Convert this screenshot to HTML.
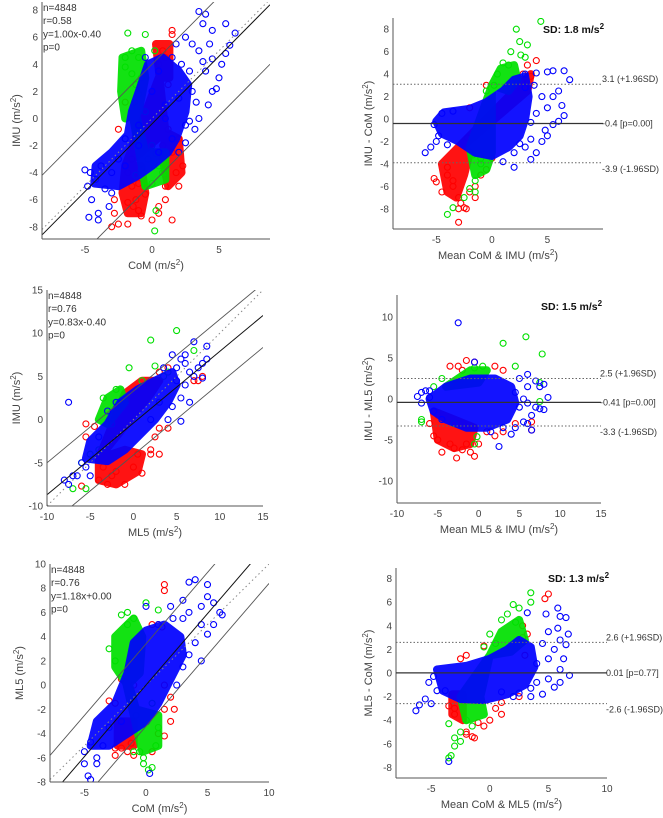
<!DOCTYPE html>
<html><head><meta charset="utf-8">
<style>
html,body{margin:0;padding:0;background:#fff;}
svg{display:block;font-family:"Liberation Sans",Arial,sans-serif;}
.tick{font-size:10px;fill:#444;}
.alab{font-size:11px;fill:#444;}
.stat{font-size:10px;fill:#333;}
.rl{font-size:9px;fill:#333;}
.sd{font-size:10.5px;font-weight:bold;fill:#111;}
</style></head>
<body>
<svg id="fig" width="663" height="818" viewBox="0 0 663 818" xmlns="http://www.w3.org/2000/svg"></svg>
<script>
// ---------- data ----------
const p1Stats = ["n=4848","r=0.58","y=1.00x-0.40","p=0"];
const p1Reg = [1.00,-0.40];
const p1Band = [4.4];
const p1XTicks = [-5,0,5];
const p1YTicks = [-8,-6,-4,-2,0,2,4,6,8];
const p1BlueCore = [[-4.3,-4.8],[-4.2,-3.5],[-3,-2.5],[-1.8,-1.2],[-1.5,0.5],[-0.8,2.5],[-0.3,4],[0.8,4.5],[2,3.5],[2.7,2.5],[2.5,0.5],[1.8,-1.5],[1.2,-2.5],[0,-3.5],[-1,-4.2],[-2.5,-5]];
const p1GreenCore = [[-2.2,4.5],[-0.8,5],[-0.5,3],[-1,0.5],[-2,0],[-2.3,2],[-2.2,4.5],[-0.5,-2.5],[1,-2.5],[1,-4.5],[-0.5,-5]];
const p1RedCore = [[-2,-3.5],[-0.8,-3.5],[-0.5,-5.5],[-0.8,-7],[-1.8,-7],[-2.2,-5.5],[-2,-3.5],[1,-1],[2,-1.5],[2.2,-4],[1.2,-5],[0.8,-3],[1,-1],[0.3,5.5],[1.3,5.5],[1.3,3],[0.5,3]];
const p1Blue = [[3.5,7.9],[4,7.7],[3.8,7],[4.5,6.5],[5.5,7],[6.2,6.3],[5.8,5.4],[5.5,4.8],[4.5,4.4],[4,3.5],[5,3],[3,5.5],[2.5,6],[3.5,5],[4.8,2.2],[4.2,1],[3.5,0],[3.2,-0.8],[4.5,2],[5.2,4],[2.8,3.5],[3,2],[2.5,-0.5],[-4.5,-6],[-4.8,-5],[-4.2,-4.5],[-4,-7],[-4.7,-7.3],[-4,-7.5],[-3,-5.5],[-3.5,-5.2],[-3.2,-6.5],[-3.8,-3.5],[-2.5,-3],[-3,-4],[-2,-3.5],[-1,-2],[-2,-1.5],[1.5,4.5],[1.8,5.5],[2.2,4],[0.5,3.5],[-0.5,4.5],[0,2],[1,1],[2,1.5],[3.3,1.2],[2.8,-0.2],[1.5,-1.5],[0.5,-2.5],[1,0],[-1,-0.5],[3.8,4.2],[4.3,5.5],[2,-2.5],[2.5,-1.8],[-5,-3.8],[-4.6,-4]];
const p1Green = [[-1.8,6.3],[-0.5,6.2],[-1.5,5],[-1,4.5],[0.2,5],[-2,4.5],[-1.5,3.3],[-1.2,2.5],[-1,1.8],[-2,3.8],[-0.8,3],[-1.3,1.2],[-0.5,0.5],[-1,-0.8],[0,-2],[-0.3,-3],[0.5,-3.5],[-0.8,-3.8],[0,-4.8],[-0.5,-5],[0.8,-4],[-1.2,-4.2],[0.2,-8.3],[0.3,-6.8],[-1,-1.5],[0.3,-2.6]];
const p1Red = [[1.5,6.5],[1.5,6.2],[0.8,5],[1,4.5],[0.5,4],[1.2,2.5],[-2,1.2],[-2.5,-0.8],[-1.5,-3],[-1.8,-4],[-1.5,-5],[-1.2,-6],[-1.4,-6.5],[-1,-6.8],[-0.8,-7.2],[-0.5,-5.6],[-1.8,-6.2],[-2.8,-6],[-3,-8],[-2.5,-7.8],[-1.8,-7.8],[0,-7.5],[0.5,-6.5],[1,-6],[1.5,-7.5],[2,-5],[1.8,-4],[2.3,-3.5],[1.5,-2.5],[0.8,-2],[2,-1.5],[1.2,-0.8],[-2.8,-7],[0.5,-7],[1,-5],[-1,-4.8]];

const p2Lines = [3.1,-0.4,-3.9];
const p2Labels = ["3.1 (+1.96SD)","-0.4 [p=0.00]","-3.9 (-1.96SD)"];
const p2XTicks = [-5,0,5];
const p2YTicks = [-8,-6,-4,-2,0,2,4,6,8];
const p2BlueCore = [[-5,-0.2],[-4.3,0.6],[-2,0.9],[-0.5,1.5],[1,2.5],[2,3.5],[3,3.8],[3.3,2],[3,0],[2.5,-1.5],[1.5,-2.5],[0,-3.3],[-1.5,-3],[-3,-2],[-4.5,-1.3]];
const p2GreenCore = [[0,3],[0.8,4.5],[2,4.8],[2.3,3.5],[1.5,2.5],[0,3],[-2,-2.5],[-1.5,-5],[-0.5,-4.5],[0,-3]];
const p2RedCore = [[-4.5,-4],[-3,-2.5],[-2,-3],[-2.5,-5],[-3.2,-7],[-4,-6.5],[-4.5,-4],[2.5,3],[3.5,4],[3.2,2.5]];
const p2Blue = [[-6,-3],[-5.5,-2.5],[-5,-2],[-4.8,-1.5],[-5.2,-0.5],[-4.5,0.5],[-3.5,0.7],[-4,-2.3],[3,4],[4,4.1],[5,4.2],[5.5,4.3],[6.5,4.3],[7,3.5],[6,2.5],[6.3,1.2],[6.5,0.3],[5.5,-0.5],[5,-1.5],[4.5,-2],[3.5,-1.8],[3,-2.5],[4,-3],[3.5,-3.6],[2,-4.3],[1,-3.8],[5,1],[4.5,2],[5.5,2],[4,0.5],[3.5,-0.3],[2.5,-2.2],[6,-0.2],[4.8,-1],[3.8,3],[3,2.8],[2,-3]];
const p2Green = [[2.2,8],[4.4,8.7],[2.5,6.9],[3.2,6.6],[1.7,6],[2.6,5.7],[3,5.5],[1,5],[1.5,4.8],[0.5,4],[0.2,3],[-0.5,2.5],[-1.7,-3.2],[-1,-4],[-1.5,-5.5],[-2,-6.2],[-1.5,-6.5],[-2.5,-7],[-4,-8.5],[-3.5,-7.9],[-1,-3.5]];
const p2Red = [[4,5.2],[3.2,4.8],[2.8,4],[3.5,3.8],[2.7,3.4],[-0.5,3],[-2,1],[-2.2,-1.7],[-5.2,-5.3],[-5,-5.6],[-4.5,-6.5],[-4,-5],[-3.5,-5.5],[-3,-7],[-2.8,-7.5],[-3,-8],[-2.5,-7.9],[-3,-9.2],[-2,-6.5],[-1.5,-6],[-1,-5],[-0.5,-4.5],[0,-3.5],[-1.5,-7],[-2.3,-8],[-3.5,-6],[-4,-4.3]];

const p3Stats = ["n=4848","r=0.76","y=0.83x-0.40","p=0"];
const p3Reg = [0.83,-0.40];
const p3Band = [3.7];
const p3XTicks = [-10,-5,0,5,10,15];
const p3YTicks = [-10,-5,0,5,10,15];
const p3BlueCore = [[-5.5,-4.5],[-5,-2.5],[-3,-0.5],[-1.5,2],[0.5,3.5],[2.5,4.5],[4.5,5.5],[5,4],[4,2],[2.5,0],[0.5,-2],[-1,-3.5],[-3,-4.8]];
const p3GreenCore = [[-4,0],[-3,2.5],[-1.5,3.5],[-1,2],[-3,-0.5]];
const p3RedCore = [[-4,-4.5],[-1,-3.5],[1,-4],[0.5,-6],[-2,-7.5],[-4,-7],[-4,-4.5],[-1,3],[1,4.5],[3,4.5],[2,3]];
const p3Blue = [[-7.5,2],[-8,-7],[-7.5,-7.5],[-7,-6.5],[-6.5,-6.5],[-6,-5],[-5.5,-5.5],[-5,-6.5],[-2,2],[-3,1],[-4,-2],[5,6],[5.5,7],[6,7.5],[7,9],[8.5,8.5],[8.5,7],[8,6.5],[7.5,6],[6.5,5.5],[6,4],[6.5,2],[5.5,2.5],[5.5,-0.2],[4,0],[4.5,1.5],[5,4.5],[3.5,6],[4.5,7.5],[6,6.5],[8,4.8],[3,2],[2,0],[7,5]];
const p3Green = [[-0.5,6],[2,9.2],[5,10.3],[2.5,6.2],[7,8],[4,5.5],[-2,3.5],[-3.5,2.5],[-4,-3.5],[-5,-4],[-6,-5],[-7,-8],[-5.5,-8],[3.5,5],[1,4.5],[-2.5,-0.5]];
const p3Red = [[-5.5,-0.5],[-4.5,-0.8],[-5.5,-2],[-3,-0.5],[-6,-7.7],[-3,-7.5],[-1,-7.5],[1,-6.2],[-2,-6],[2,-4],[3,-4],[2,-3.5],[3,-1],[4,-1],[7.5,4.5],[8,5],[7,4.5],[4,6],[3,5.5],[-4,-7],[-2.5,-6.5],[0,-5.5],[-3.5,-5.5],[0.5,-4],[2.5,-2]];

const p4Lines = [2.5,-0.41,-3.3];
const p4Labels = ["2.5 (+1.96SD)","-0.41 [p=0.00]","-3.3 (-1.96SD)"];
const p4XTicks = [-10,-5,0,5,10,15];
const p4YTicks = [-10,-5,0,5,10];
const p4BlueCore = [[-6,0],[-4,1.5],[-1,2.5],[2,2.5],[4,1.5],[4.5,-0.5],[3.5,-2.5],[1,-3.5],[-1.5,-3.5],[-4,-2.5],[-5.5,-1.5]];
const p4GreenCore = [[-4,1.5],[-1,3.5],[1,3.5],[0,2]];
const p4RedCore = [[-5.5,-1.5],[-3,-2.5],[-0.5,-3.5],[-1,-5.5],[-3,-6],[-5,-5]];
const p4Blue = [[-2.5,9.3],[-7.5,0.3],[-7,0.8],[-6.5,1],[-7,-0.5],[-6,0.2],[-5.5,-1.5],[-6,1],[5,2.5],[6,3],[6,1.5],[7,2.2],[7.5,1.5],[8,1.8],[8.5,0.2],[7.5,-1.2],[8,-1.3],[7,-1],[6.5,-2],[6,-3],[5.5,-2.8],[6.5,-3.8],[4.5,-3.5],[4,-4.3],[2.5,-5.8],[5,-1],[4.5,0.8],[5.5,0],[6,-0.5],[-0.5,4.5],[3,-3.5],[1.5,-4],[-4.5,-2.5]];
const p4Green = [[5.8,7.6],[3,6.8],[7.8,5.5],[4.5,4],[0.5,4],[-0.5,3.8],[7.5,2],[-4.5,2.5],[-5.5,1.5],[-7,-2.5],[-7,-2.8],[-0.5,-5.5],[-0.2,-4.6],[-3,-3],[7.5,-0.3]];
const p4Red = [[-1.5,4.7],[-0.5,4.5],[-2.5,4],[-3.5,4],[-2,3.5],[2,4],[3,3.5],[-5,-2],[-6,-3],[-5.5,-4.5],[-5,-5],[-4.5,-6.5],[-2.7,-7.2],[-0.5,-7],[-1,-6.5],[-3,-6],[-1.5,-5.5],[0,-5.5],[2,-4.5],[3,-4],[1,-4],[6.5,-2.8],[6.5,-3.8],[4.5,-3],[-3.5,-5.5],[-2,-6.2]];

const p5Stats = ["n=4848","r=0.76","y=1.18x+0.00","p=0"];
const p5Reg = [1.18,0.00];
const p5Band = [3.4];
const p5XTicks = [-5,0,5,10];
const p5YTicks = [-8,-6,-4,-2,0,2,4,6,8,10];
const p5BlueCore = [[-4.5,-5],[-4,-3],[-2.5,-1.5],[-1.5,1],[-1,3.5],[0,4.5],[1.5,5],[2.8,4],[3,2.5],[2,0.5],[1,-1.5],[0,-3],[-1.5,-4],[-3,-5]];
const p5GreenCore = [[-2.5,4],[-1,5.5],[-0.3,4],[-0.5,1],[-1.5,0],[-2.5,1.5],[-2.5,4],[-0.8,-2],[1,-2.5],[1,-5],[-0.3,-5.5]];
const p5RedCore = [[-2.3,-3],[-1,-3],[-1,-5],[-2.3,-5]];
const p5Blue = [[-5,-5.5],[-5,-6.5],[-4.7,-7.5],[-4.5,-7.8],[-4,-6.5],[-4.5,-4.7],[-4,-6],[-3.5,-5],[4,8.7],[3.5,8.5],[5,8.3],[5,7.3],[3,7],[2,6.5],[3.5,6],[4.5,6.5],[5.5,6.8],[6,6],[5.5,5],[4.5,5],[5,4.2],[4,3.5],[3.5,2.5],[4.5,2],[3,1.5],[2.5,0],[0.3,-7.3],[0,6.5],[1,5],[3,5.5],[2.2,5.5],[-2,-3],[-3,-3.5],[6.2,5.8]];
const p5Green = [[0,6.8],[-1.5,6],[-2,5.8],[1,6.2],[-1,5.5],[-3,3],[-2.5,2],[-1.5,5],[-0.5,-5.5],[-0.2,-6.5],[-0.2,-6],[0.5,-6.8],[0.2,-7],[-1,-5.5],[0.8,-5],[1,-3.5],[-0.8,-2.5],[0.5,-1.5]];
const p5Red = [[1.5,8.3],[1.5,7.8],[1,5],[1.3,4.8],[0.5,5],[-2,0.5],[-1,0],[-3,-1.3],[-2.5,-1.5],[-2.5,-5.2],[-2,-5.2],[-2.5,-5.8],[-1.5,-5.5],[-1,-5.8],[0.5,-5.5],[1,-4],[1.5,-4.2],[2,-3],[2.3,-2],[1.5,-2],[2,-1],[1.5,0],[-1.2,-4.8]];

const p6Lines = [2.6,0.01,-2.6];
const p6Labels = ["2.6 (+1.96SD)","0.01 [p=0.77]","-2.6 (-1.96SD)"];
const p6XTicks = [-5,0,5,10];
const p6YTicks = [-8,-6,-4,-2,0,2,4,6,8];
const p6BlueCore = [[-4.5,0.3],[-2,0.6],[0,1.2],[1.5,2],[2.5,2.8],[3.5,2.2],[3.8,0.5],[3,-1],[1.5,-1.8],[-0.5,-2.3],[-2.5,-2.2],[-4,-1.5]];
const p6GreenCore = [[0,1.5],[1,3.5],[2.5,4.5],[3,2.8],[1.8,1.8],[0,1.5],[-2.5,-2],[-2,-4],[-0.5,-3.5],[-0.8,-2]];
const p6RedCore = [[-3.2,-1.8],[-2.3,-1.8],[-2.3,-4],[-3.2,-3.5]];
const p6Blue = [[-6.3,-3.2],[-6,-2.7],[-5.5,-2.2],[-5,-2.6],[-5.2,-0.8],[-4.5,-1.5],[-4.8,-0.3],[-3.5,-7.5],[3.2,5.1],[4.8,5],[5.8,5.5],[6,4.8],[6.5,4.7],[6.7,3.3],[5.8,3.8],[5,3.5],[6,2.8],[5.5,2],[6.5,2.4],[6.3,1.2],[6,0.3],[6.8,-0.2],[6,-0.8],[5,-0.5],[5.5,-1.2],[4,-0.8],[4.5,-1.8],[3.5,-2],[2,-2],[5,1.2],[4.5,2.5],[4,0.8],[3.5,-1.3],[2.5,-1.7],[1,-1.6],[-3.8,-1.5]];
const p6Green = [[3.5,6.8],[3.5,6],[2,5.8],[2.5,5.5],[1.5,5],[1,4.5],[2.2,4.3],[0,3.3],[-3.5,-4.3],[-3,-5.5],[-3,-6.2],[-2.5,-5.8],[-3.5,-7.2],[-3.3,-7],[-2.5,-5],[-1.5,-4.5],[-2,-4],[0.5,2.5],[-0.5,2.2]];
const p6Red = [[5,6.7],[4.7,6.3],[2.8,4],[3.2,3.3],[2.8,3],[-2,1.5],[-2.5,1.2],[-0.5,2.3],[-3,-3],[-3.5,-2.8],[-3,-3.5],[-2,-5.2],[-1.5,-5.4],[-1.3,-5.5],[-2,-5],[-0.5,-4.5],[0,-4],[1,-3.5],[0.5,-3],[1,-2.5],[3,1.5],[2.5,-2],[-1,-4.2]];

// ---------- drawing ----------
const NS = "http://www.w3.org/2000/svg";
const svg = document.getElementById('fig');
function mk(tag, attrs, parent, text){
  const e = document.createElementNS(NS, tag);
  for (const k in attrs) e.setAttribute(k, attrs[k]);
  if (text !== undefined) e.textContent = text;
  (parent||svg).appendChild(e);
  return e;
}
function makeScales(box, xr, yr){
  const sx = v => box.l + (v - xr[0]) / (xr[1] - xr[0]) * (box.r - box.l);
  const sy = v => box.b - (v - yr[0]) / (yr[1] - yr[0]) * (box.b - box.t);
  return {sx, sy};
}
function drawPanel(id, box, xr, yr, xt, yt, xlab, ylab, ylabX, cores, pts){
  const g = mk('g', {});
  
  
  const {sx, sy} = makeScales(box, xr, yr);
  const clip = mk('clipPath', {id: id+'-clip'}, g);
  mk('rect', {x: box.l, y: box.t, width: box.r-box.l, height: box.b-box.t}, clip);
  const plot = mk('g', {'clip-path': 'url(#'+id+'-clip)'}, g);
  const cols = {red:'#ff0000', green:'#00e000', blue:'#0000ff'};
  ['red','green','blue'].forEach(c => {
    const poly = cores[c];
    const pathD = poly.map((p,i)=>(i?'L':'M')+sx(p[0]).toFixed(1)+' '+sy(p[1]).toFixed(1)).join(' ')+'Z';
    const core = mk('path', {d: pathD, fill: cols[c], stroke: cols[c], 'stroke-width': 8, 'stroke-linejoin':'round', opacity: 0.92}, plot);
    
    
    pts[c].forEach(p => {
      const ci = mk('circle', {cx: sx(p[0]).toFixed(1), cy: sy(p[1]).toFixed(1), r: 3, fill: 'none', stroke: cols[c], 'stroke-width': 1.1}, plot);
      
      
    });
  });
  const ya = mk('line', {x1: box.l, y1: box.t, x2: box.l, y2: box.b, stroke:'#555', 'stroke-width':1}, g);
  
  
  const xa = mk('line', {x1: box.l, y1: box.b, x2: box.r, y2: box.b, stroke:'#555', 'stroke-width':1}, g);
  
  
  xt.forEach(v => {
    const t = mk('text', {x: sx(v), y: box.b + 14, 'text-anchor':'middle', class:'tick'}, g, String(v));
    
    
  });
  yt.forEach(v => {
    const t = mk('text', {x: box.l - 4, y: sy(v) + 3.5, 'text-anchor':'end', class:'tick'}, g, String(v));
    
    
  });
  const xl = mk('text', {x: (box.l+box.r)/2, y: box.b + 30, 'text-anchor':'middle', class:'alab'}, g);
  
  
  xl.innerHTML = xlab + ' (m/s<tspan dy="-4" font-size="8">2</tspan><tspan dy="4">)</tspan>';
  const cy = (box.t+box.b)/2;
  const yl = mk('text', {x: ylabX, y: cy, 'text-anchor':'middle', class:'alab', transform:'rotate(-90 '+ylabX+' '+cy+')'}, g);
  
  
  yl.innerHTML = ylab + ' (m/s<tspan dy="-4" font-size="8">2</tspan><tspan dy="4">)</tspan>';
  return {g, plot, sx, sy};
}
function scatterPanel(id, box, xr, yr, xt, yt, xlab, ylab, ylabX, cores, pts, reg, band, stats){
  const P = drawPanel(id, box, xr, yr, xt, yt, xlab, ylab, ylabX, cores, pts);
  const {sx, sy, plot, g} = P;
  const line = (m, c, dash, w, col, name) => {
    const l = mk('line', {x1: sx(xr[0]), y1: sy(m*xr[0]+c), x2: sx(xr[1]), y2: sy(m*xr[1]+c), stroke: col, 'stroke-width': w}, plot);
    if (dash) l.setAttribute('stroke-dasharray', dash);
    
    
  };
  line(1, 0, '1.5,3', 1, '#888', 'identity-line');
  line(reg[0], reg[1], null, 1, '#111', 'regression-line');
  line(reg[0], reg[1]+band[0], null, 0.9, '#555', 'upper-bound-line');
  line(reg[0], reg[1]-band[0], null, 0.9, '#555', 'lower-bound-line');
  stats.forEach((s, i) => {
    const t = mk('text', {x: box.l+1, y: box.t + 9 + i*13.2, class:'stat'}, g, s);
    
    
  });
}
function baPanel(id, box, xr, yr, xt, yt, xlab, ylab, ylabX, cores, pts, lines, labels, sd, sdPos){
  const P = drawPanel(id, box, xr, yr, xt, yt, xlab, ylab, ylabX, cores, pts);
  const {sx, sy, g} = P;
  lines.forEach((v, i) => {
    const l = mk('line', {x1: box.l, y1: sy(v), x2: box.r, y2: sy(v), stroke: i===1?'#333':'#666', 'stroke-width': i===1?1.3:1}, g);
    if (i !== 1) l.setAttribute('stroke-dasharray', '1.5,2');
    
    
    const dy = i===0 ? -2 : (i===1 ? 3 : 9);
    const t = mk('text', {x: box.r - 1, y: sy(v) + dy, class:'rl'}, g, labels[i]);
    
    
  });
  const s = mk('text', {x: sdPos[0], y: sdPos[1], class:'sd'}, g);
  
  
  s.innerHTML = 'SD: ' + sd + ' m/s<tspan dy="-4" font-size="8">2</tspan>';
}

scatterPanel('scatter-com-imu', {l:42,r:270,t:2,b:239}, [-8.2,8.8], [-8.9,8.6], p1XTicks, p1YTicks, 'CoM', 'IMU', 20,
  {red:p1RedCore, green:p1GreenCore, blue:p1BlueCore}, {red:p1Red, green:p1Green, blue:p1Blue}, p1Reg, p1Band, p1Stats);
baPanel('bland-altman-com-imu', {l:393,r:603,t:18,b:229}, [-8.9,10], [-9.8,9], p2XTicks, p2YTicks, 'Mean CoM &amp; IMU', 'IMU - CoM', 372,
  {red:p2RedCore, green:p2GreenCore, blue:p2BlueCore}, {red:p2Red, green:p2Green, blue:p2Blue}, p2Lines, p2Labels, '1.8', [543,33]);
scatterPanel('scatter-ml5-imu', {l:47,r:263,t:290,b:506}, [-10,15], [-10,15], p3XTicks, p3YTicks, 'ML5', 'IMU', 20,
  {red:p3RedCore, green:p3GreenCore, blue:p3BlueCore}, {red:p3Red, green:p3Green, blue:p3Blue}, p3Reg, p3Band, p3Stats);
baPanel('bland-altman-ml5-imu', {l:397,r:601,t:295,b:503}, [-10,15], [-12.7,12.7], p4XTicks, p4YTicks, 'Mean ML5 &amp; IMU', 'IMU - ML5', 372,
  {red:p4RedCore, green:p4GreenCore, blue:p4BlueCore}, {red:p4Red, green:p4Green, blue:p4Blue}, p4Lines, p4Labels, '1.5', [541,310]);
scatterPanel('scatter-com-ml5', {l:50,r:269,t:564,b:782}, [-7.8,10], [-8,10], p5XTicks, p5YTicks, 'CoM', 'ML5', 23,
  {red:p5RedCore, green:p5GreenCore, blue:p5BlueCore}, {red:p5Red, green:p5Green, blue:p5Blue}, p5Reg, p5Band, p5Stats);
baPanel('bland-altman-com-ml5', {l:396,r:607,t:568,b:778}, [-8,10], [-8.9,8.9], p6XTicks, p6YTicks, 'Mean CoM &amp; ML5', 'ML5 - CoM', 372,
  {red:p6RedCore, green:p6GreenCore, blue:p6BlueCore}, {red:p6Red, green:p6Green, blue:p6Blue}, p6Lines, p6Labels, '1.3', [548,582]);
</script>
</body></html>
